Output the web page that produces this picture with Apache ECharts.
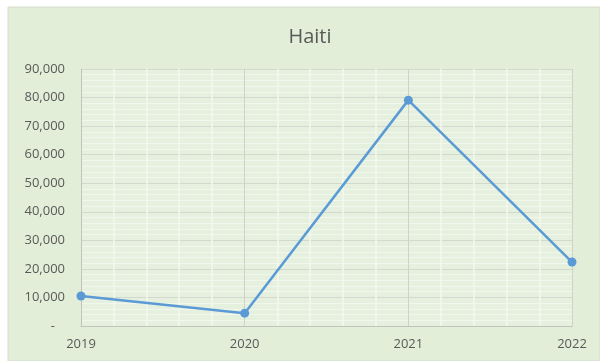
<!DOCTYPE html>
<html>
<head>
<meta charset="utf-8">
<script src="https://cdn.jsdelivr.net/npm/echarts@6/dist/echarts.min.js"></script>
<style>
html,body{margin:0;padding:0;background:#ffffff;}
#chart{width:600px;height:361px;}
</style>
</head>
<body>
<div id="chart"></div>
<script>
var years = ['2019', '2020', '2021', '2022'];
var values = [10500, 4500, 79100, 22400];
var yTicks = [0, 10000, 20000, 30000, 40000, 50000, 60000, 70000, 80000, 90000];
var chartTitle = 'Haiti';

var chart = echarts.init(document.getElementById('chart'), null, {renderer: 'canvas'});
var font = '"Open Sans", "Liberation Sans", sans-serif';
var option = {
  backgroundColor: '#ffffff',
  animation: false,
  graphic: [{
    type: 'rect',
    z: -10,
    shape: {x: 8, y: 7, width: 592, height: 354},
    style: {fill: '#e2eed8', stroke: '#d5dccf', lineWidth: 1}
  }],
  title: {
    text: chartTitle,
    left: 305,
    top: 22,
    textAlign: 'center',
    textStyle: {color: '#595959', fontSize: 20, fontWeight: 'normal', fontFamily: font}
  },
  grid: {
    left: 81, right: 28, top: 69, bottom: 35,
    show: true, backgroundColor: '#e6f0df', borderWidth: 0
  },
  xAxis: [{
    type: 'category',
    data: years,
    boundaryGap: false,
    axisLine: {show: true, lineStyle: {color: '#bfc4bb', width: 1}},
    axisTick: {show: false},
    axisLabel: {color: '#595959', fontSize: 13, fontFamily: font, margin: 12},
    splitLine: {show: true, lineStyle: {color: '#cdd3c8', width: 1}}
  }, {
    type: 'value',
    min: 0, max: 3, interval: 1,
    position: 'bottom',
    axisLine: {show: false},
    axisTick: {show: false},
    axisLabel: {show: false},
    splitLine: {show: false},
    minorTick: {show: false, splitNumber: 5},
    minorSplitLine: {show: true, lineStyle: {color: '#f3f8ef', width: 1.5}}
  }],
  yAxis: {
    type: 'value',
    min: yTicks[0],
    max: yTicks[yTicks.length - 1],
    interval: yTicks[1] - yTicks[0],
    axisLine: {show: true, lineStyle: {color: '#bfc4bb', width: 1}},
    axisTick: {show: false},
    axisLabel: {
      color: '#595959', fontSize: 13, fontFamily: font, margin: 16,
      formatter: function (v) { return v === 0 ? '-   ' : v.toLocaleString('en-US'); }
    },
    splitLine: {show: true, lineStyle: {color: '#d3dacd', width: 1.2}},
    minorTick: {show: false, splitNumber: 5},
    minorSplitLine: {show: true, lineStyle: {color: '#f1f7ed', width: 1}}
  },
  series: [{
    type: 'line',
    data: values,
    xAxisIndex: 0,
    symbol: 'circle',
    symbolSize: 9,
    lineStyle: {color: '#5b9bd5', width: 2.5},
    itemStyle: {color: '#5b9bd5'},
    z: 5
  }]
};
chart.setOption(option);
</script>
</body>
</html>
